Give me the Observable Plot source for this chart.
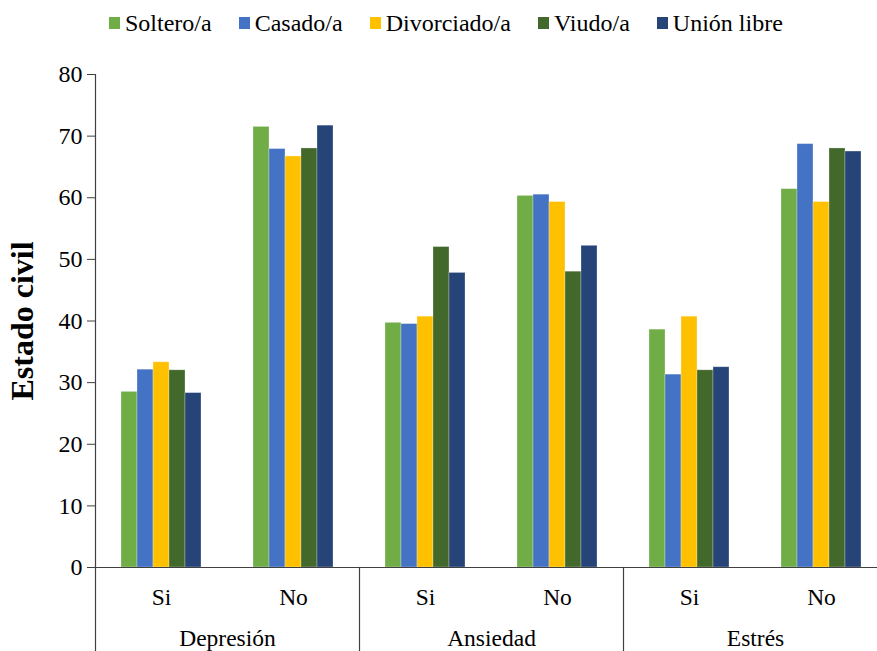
<!DOCTYPE html>
<html>
<head>
<meta charset="utf-8">
<script src="https://cdn.jsdelivr.net/npm/d3@7"></script>
<script src="https://cdn.jsdelivr.net/npm/@observablehq/plot@0.6"></script>
<style>
  html, body { margin: 0; padding: 0; background: #fff; }
  body { width: 877px; height: 651px; overflow: hidden; position: relative; font-family: "Liberation Serif", "Times New Roman", serif; }
  #main { position: absolute; left: 0; top: 0; width: 887px; }
  #bottom { position: absolute; left: 0; top: 567px; width: 887px; }
  #legend { position: absolute; left: 109px; top: 5px; height: 36px; display: flex; align-items: center; font-size: 24px; color: #000; z-index: 5; white-space: nowrap; }
  #legend .item { display: flex; align-items: center; margin-right: 27px; }
  #legend .sw { width: 11px; height: 12px; margin-right: 5px; }
</style>
</head>
<body>
<div id="main"></div>
<div id="bottom"></div>
<div id="legend"></div>
<script>
// ---- data ----
const groups = ["Depresión", "Ansiedad", "Estrés"];
const responses = ["Si", "No"];
const series = ["Soltero/a", "Casado/a", "Divorciado/a", "Viudo/a", "Unión libre"];
const colors = ["#70AD47", "#4472C4", "#FFC000", "#43682B", "#264478"];
const yTicks = [0, 10, 20, 30, 40, 50, 60, 70, 80];
// order: Depresión Si, Depresión No, Ansiedad Si, Ansiedad No, Estrés Si, Estrés No
const soltero    = [28.5, 71.5, 39.7, 60.3, 38.6, 61.4];
const casado     = [32.1, 67.9, 39.5, 60.5, 31.3, 68.7];
const divorciado = [33.3, 66.7, 40.7, 59.3, 40.7, 59.3];
const viudo      = [32.0, 68.0, 52.0, 48.0, 32.0, 68.0];
const unionLibre = [28.3, 71.7, 47.8, 52.2, 32.5, 67.5];
const seriesValues = [soltero, casado, divorciado, viudo, unionLibre];

// ---- build table ----
const subKeys = groups.flatMap(g => responses.map(r => g + "|" + r));
const rows = [];
groups.forEach((g, gi) => responses.forEach((r, ri) => series.forEach((s, si) => {
  rows.push({key: g + "|" + r, group: g, response: r, series: s, value: seriesValues[si][gi * 2 + ri]});
})));
const subRows = groups.flatMap(g => responses.map(r => ({group: g, response: r})));

const lineColor = "#404040";
const fontFam = "'Liberation Serif', 'Times New Roman', serif";

const main = Plot.plot({
  width: 887, height: 568,
  marginTop: 74, marginBottom: 1, marginLeft: 95, marginRight: 0,
  style: {fontFamily: fontFam, fontSize: "24px", color: "#000", background: "transparent", maxWidth: "none", overflow: "visible"},
  fx: {domain: subKeys, padding: 0, axis: null},
  x: {domain: series, paddingInner: 0, paddingOuter: 1.475, axis: null},
  y: {domain: [0, 80], axis: null},
  color: {domain: series, range: colors},
  marks: [
    Plot.barY(rows, {fx: "key", x: "series", y: "value", fill: "series", stroke: "#ffffff", strokeOpacity: 0.35, strokeWidth: 0.8}),
    Plot.ruleY([0], {stroke: lineColor, strokeWidth: 1.2}),
    Plot.frame({anchor: "left", facetAnchor: "left", stroke: lineColor, strokeWidth: 1.2}),
    Plot.axisY({ticks: yTicks, tickSize: 8, tickPadding: 5, label: null, fontSize: 24, stroke: lineColor, fill: "#000", fontFamily: fontFam}),
    Plot.axisY({ticks: [], label: "Estado civil", labelAnchor: "center", labelArrow: "none", labelOffset: 85, fontSize: 32, fontWeight: "bold", fill: "#000", fontFamily: fontFam})
  ]
});
document.getElementById("main").appendChild(main);

const bottom = Plot.plot({
  width: 887, height: 84,
  marginTop: 0, marginBottom: 0, marginLeft: 95, marginRight: 0,
  style: {fontFamily: fontFam, fontSize: "24px", color: "#000", background: "transparent", maxWidth: "none", overflow: "visible"},
  fx: {domain: groups, padding: 0, axis: null},
  x: {type: "band", domain: responses, padding: 0, axis: null},
  marks: [
    Plot.frame({anchor: "left", stroke: lineColor, strokeWidth: 1.2}),
    Plot.text(subRows, {fx: "group", x: "response", text: "response", frameAnchor: "top", dy: 21, fontSize: 23.5, fill: "#000", fontFamily: fontFam}),
    Plot.text(groups, {fx: d => d, text: d => d, frameAnchor: "bottom", dy: -6, fontSize: 23.5, fill: "#000", fontFamily: fontFam})
  ]
});
document.getElementById("bottom").appendChild(bottom);

const legend = document.getElementById("legend");
series.forEach((s, i) => {
  const item = document.createElement("div");
  item.className = "item";
  const sw = document.createElement("div");
  sw.className = "sw";
  sw.style.background = colors[i];
  const t = document.createElement("span");
  t.textContent = s;
  item.appendChild(sw);
  item.appendChild(t);
  legend.appendChild(item);
});
</script>
</body>
</html>
